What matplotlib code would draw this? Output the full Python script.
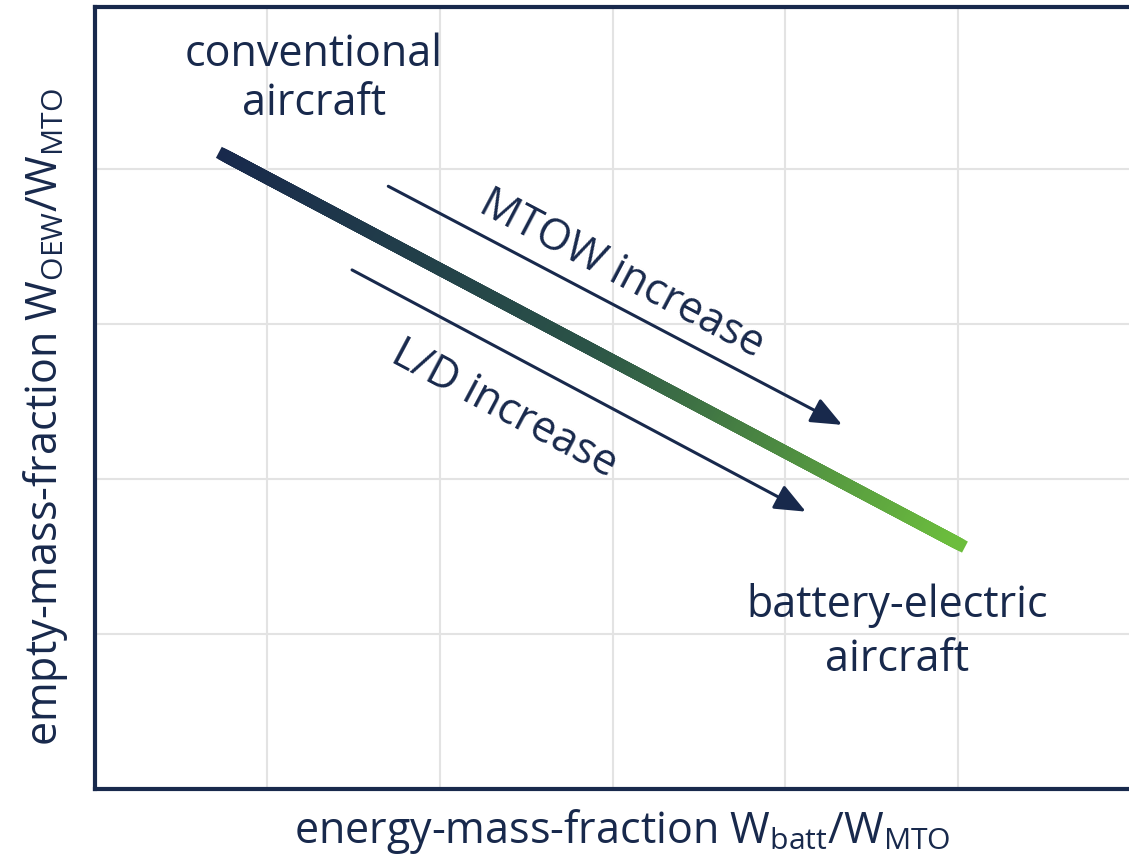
import numpy as np
import matplotlib
matplotlib.use('Agg')
import matplotlib.pyplot as plt
from matplotlib.collections import LineCollection
from matplotlib.colors import LinearSegmentedColormap

# trend line (energy-mass-fraction, empty-mass-fraction), arbitrary units
trend_x = [0.75, 5.01]
trend_y = [4.09, 1.58]

# arrows: start, end
mtow_arrow = [(1.70, 3.89), (4.33, 2.35)]
ld_arrow = [(1.49, 3.35), (4.12, 1.79)]

grid_x = [1, 2, 3, 4, 5, 6]
grid_y = [1, 2, 3, 4]

navy = '#18294c'
green = '#6cbd3d'

plt.rcParams['font.family'] = ['Open Sans', 'DejaVu Sans']
plt.rcParams['mathtext.fontset'] = 'custom'
plt.rcParams['mathtext.rm'] = 'Open Sans'

fig = plt.figure(figsize=(11.29, 8.59), dpi=100)
ax = fig.add_axes([0.0841, 0.0815, 0.917, 0.910])
ax.set_xlim(0, 6)
ax.set_ylim(0, 5.045)
ax.set_xticks(grid_x)
ax.set_yticks(grid_y)
ax.tick_params(length=0, labelbottom=False, labelleft=False)
ax.grid(color='#e3e3e3', linewidth=1.5)
ax.set_axisbelow(True)
for s in ['left', 'top', 'bottom']:
    ax.spines[s].set_color(navy)
    ax.spines[s].set_linewidth(3.0)
ax.spines['right'].set_visible(False)

# gradient colouring: split the single line into short pieces only for the colour ramp
t = np.linspace(0, 1, 300)
xs = trend_x[0] + (trend_x[1] - trend_x[0]) * t
ys = trend_y[0] + (trend_y[1] - trend_y[0]) * t
pts = np.array([xs, ys]).T.reshape(-1, 1, 2)
segs = np.concatenate([pts[:-1], pts[1:]], axis=1)
cmap = LinearSegmentedColormap.from_list('nav2green', [navy, '#2b5347', green])
lc = LineCollection(segs, cmap=cmap, linewidth=9, capstyle='projecting')
lc.set_array(t[:-1])
ax.add_collection(lc)

for (x0, y0), (x1, y1) in [mtow_arrow, ld_arrow]:
    ax.annotate('', xy=(x1, y1), xytext=(x0, y0),
                arrowprops=dict(arrowstyle='-|>,head_length=1.9,head_width=0.8',
                                color=navy, lw=2.2, shrinkA=0, shrinkB=0))

fs = 31
ax.text(1.27, 4.58, 'conventional\naircraft', ha='center', va='center',
        fontsize=fs, color=navy, linespacing=1.15)
ax.text(4.65, 1.01, 'battery-electric\naircraft', ha='center', va='center',
        fontsize=fs, color=navy, linespacing=1.28)
ax.text(3.05, 3.32, 'MTOW increase', ha='center', va='center', rotation=-27.8,
        rotation_mode='anchor', fontsize=fs, color=navy)
ax.text(2.37, 2.45, 'L/D increase', ha='center', va='center', rotation=-28.0,
        rotation_mode='anchor', fontsize=fs, color=navy)

fig.text(0.04, 0.514, r'empty-mass-fraction W$_{\mathrm{OEW}}$/W$_{\mathrm{MTO}}$',
         rotation=90, ha='center', va='center', fontsize=fs, color=navy)
fig.text(0.551, 0.032, r'energy-mass-fraction W$_{\mathrm{batt}}$/W$_{\mathrm{MTO}}$',
         ha='center', va='center', fontsize=fs, color=navy)

fig.savefig('out.png', dpi=100)
